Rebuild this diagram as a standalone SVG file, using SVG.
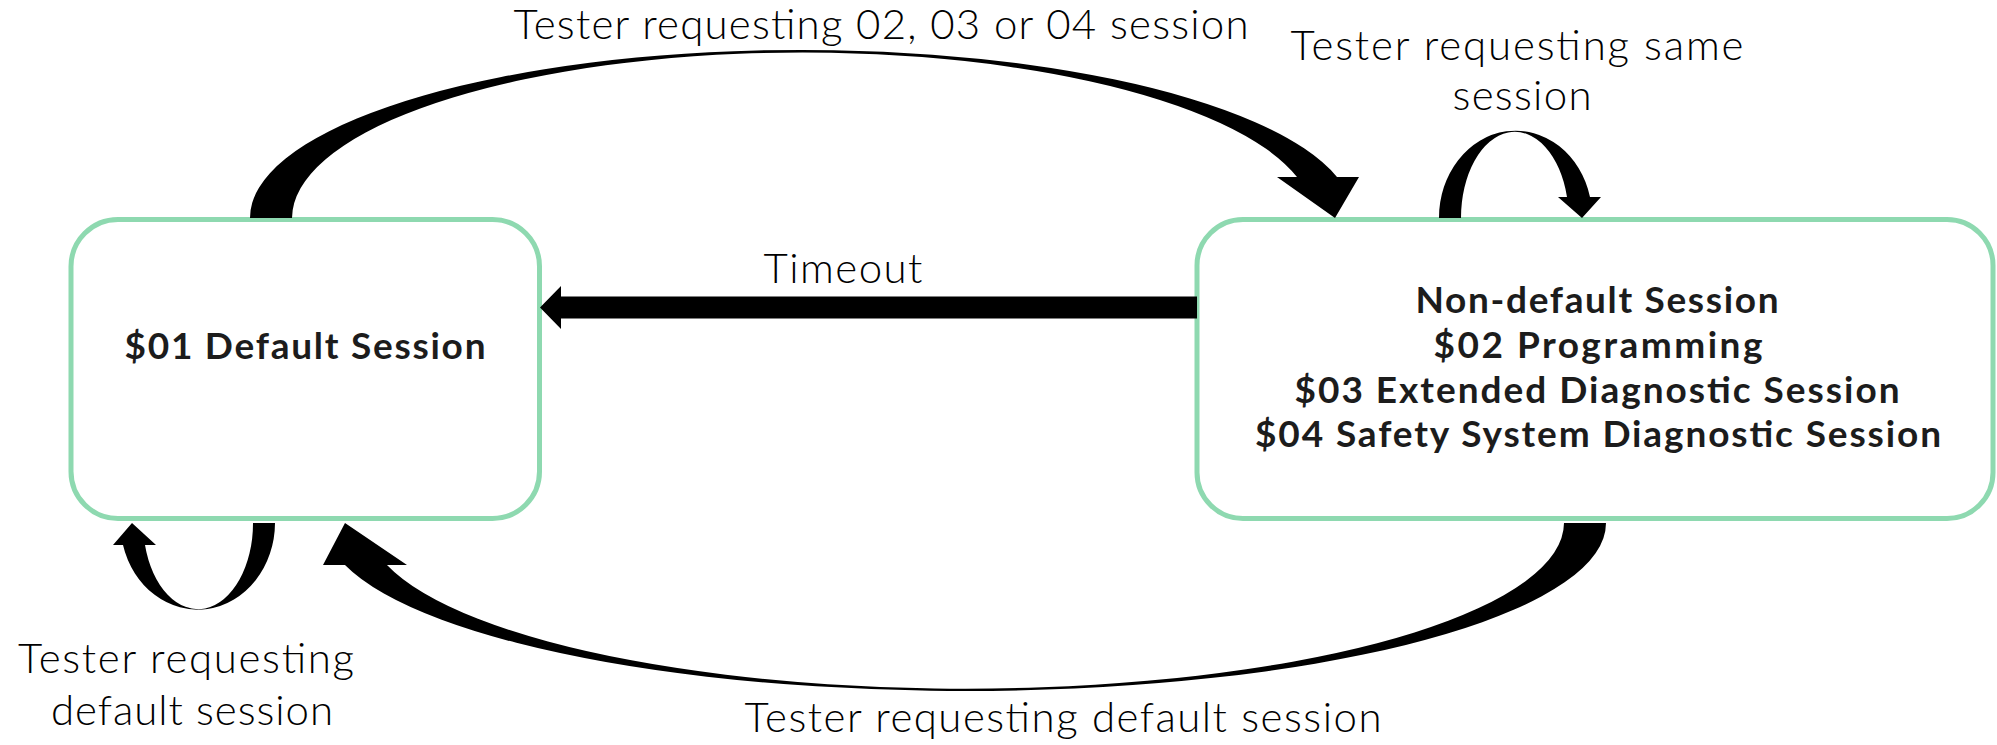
<svg xmlns="http://www.w3.org/2000/svg" width="1997" height="745" viewBox="0 0 1997 745">
  <style>
    .box { fill: #ffffff; stroke: #8ed9b0; stroke-width: 5; }
    .title { font-family: Lato, "Open Sans", "Liberation Sans", sans-serif; font-weight: 700; font-size: 37px; fill: #1c1c1c; text-anchor: middle; }
    .label { font-family: Lato, "Open Sans", "Liberation Sans", sans-serif; font-weight: 300; font-size: 42px; fill: #000000; text-anchor: middle; }
    .arrow { fill: #000000; stroke: none; }
  </style>
  <rect width="1997" height="745" fill="#ffffff"/>

  <!-- State: default session -->
  <g id="default-session">
    <rect class="box" x="71" y="219.5" width="468.5" height="299" rx="47" ry="47"/>
    <text class="title" x="305" y="359" textLength="361">$01 Default Session</text>
  </g>

  <!-- State: non-default sessions -->
  <g id="non-default-session">
    <rect class="box" x="1197" y="219.5" width="796" height="299" rx="46" ry="46"/>
    <text class="title" x="1597" y="313" textLength="363">Non-default Session</text>
    <text class="title" x="1598" y="358" textLength="329">$02 Programming</text>
    <text class="title" x="1597" y="403" textLength="605">$03 Extended Diagnostic Session</text>
    <text class="title" x="1598" y="447" textLength="686">$04 Safety System Diagnostic Session</text>
  </g>

  <!-- Transitions -->
  <g id="connectors">
    <!-- default -> non-default (tapered arc over the top) -->
    <path class="arrow" d="M 250 218 A 551.8 168 0 0 1 1337 177 L 1359 177 L 1335 218 L 1277 177 L 1297 177 A 510.6 166 0 0 0 292 218 Z"/>
    <!-- non-default -> default on timeout -->
    <path class="arrow" d="M 1197 296.5 L 561 296.5 L 561 286 L 540 307.5 L 561 329 L 561 318.5 L 1197 318.5 Z"/>
    <!-- non-default -> default (tapered arc underneath) -->
    <path class="arrow" d="M 1606 523 A 640.7 168 0 0 1 345 565 L 323 565 L 345 523 L 407 565 L 387 565 A 598.4 166 0 0 0 1564 523 Z"/>
    <!-- non-default self loop -->
    <path class="arrow" d="M 1439 218 A 76.6 87 0 0 1 1590 197 L 1601 197 L 1582 218 L 1558 197 L 1567 197 A 53.8 86 0 0 0 1461 218 Z"/>
    <!-- default self loop -->
    <path class="arrow" d="M 275 523 A 77.3 87 0 0 1 123 545 L 113 545 L 132 523 L 156 545 L 145 545 A 54.9 86 0 0 0 253 523 Z"/>
  </g>

  <!-- Transition labels -->
  <g id="labels">
    <text class="label" x="881" y="39" textLength="735">Tester requesting 02, 03 or 04 session</text>
    <text class="label" x="843" y="283" textLength="159">Timeout</text>
    <text class="label" x="1517" y="60" textLength="453">Tester requesting same</text>
    <text class="label" x="1522" y="110" textLength="139">session</text>
    <text class="label" x="186" y="673" textLength="336">Tester requesting</text>
    <text class="label" x="192" y="725" textLength="282">default session</text>
    <text class="label" x="1063" y="732" textLength="637">Tester requesting default session</text>
  </g>
</svg>
